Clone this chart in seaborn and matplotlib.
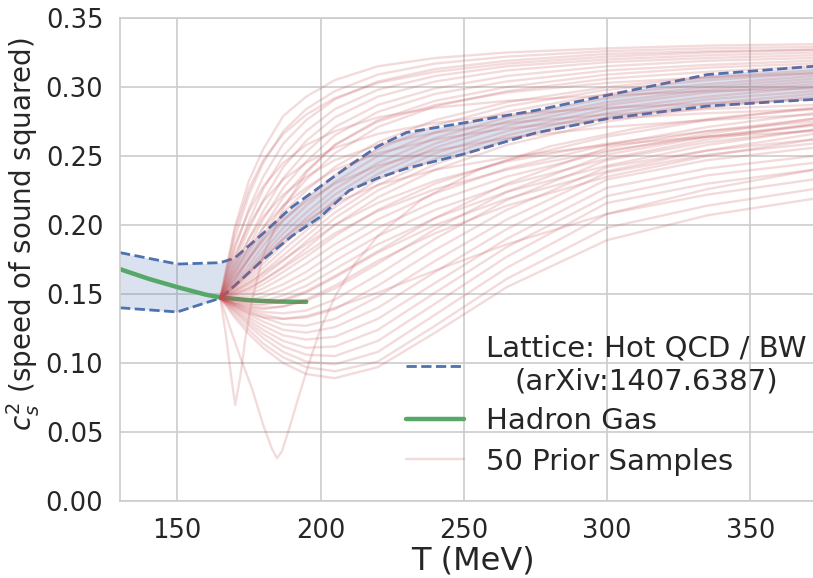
import numpy as np
import pandas as pd
import matplotlib
matplotlib.use("Agg")
import matplotlib.pyplot as plt
import seaborn as sns
from matplotlib.lines import Line2D

# ---------------- data ----------------
LATTICE_T = [130, 150, 165, 170, 180, 190, 200, 210, 220, 230, 250, 275, 300, 335, 372]
LATTICE_LO = [0.140, 0.137, 0.147, 0.156, 0.175, 0.192, 0.206, 0.225, 0.234, 0.241,
              0.2514, 0.2667, 0.277, 0.2862, 0.291]
LATTICE_HI = [0.180, 0.1717, 0.1727, 0.176, 0.194, 0.213, 0.228, 0.243, 0.257, 0.267,
              0.274, 0.283, 0.294, 0.309, 0.315]

HRG_T = [130, 140, 150, 160, 165, 175, 185, 195]
HRG_V = [0.168, 0.161, 0.155, 0.1495, 0.1475, 0.1455, 0.1445, 0.1443]

SAMPLE_T = [165, 170, 175, 180, 187, 195, 205, 220, 240, 265, 300, 335, 372]
SAMPLES = [
    # fast risers
    [0.147, 0.198, 0.232, 0.255, 0.279, 0.293, 0.305, 0.315, 0.321, 0.325, 0.328, 0.330, 0.331],
    [0.147, 0.190, 0.222, 0.245, 0.268, 0.284, 0.297, 0.309, 0.317, 0.322, 0.326, 0.328, 0.329],
    [0.147, 0.195, 0.226, 0.247, 0.266, 0.280, 0.292, 0.303, 0.311, 0.317, 0.322, 0.325, 0.327],
    [0.147, 0.182, 0.212, 0.235, 0.259, 0.276, 0.291, 0.304, 0.313, 0.319, 0.324, 0.326, 0.327],
    [0.147, 0.175, 0.203, 0.226, 0.250, 0.268, 0.284, 0.298, 0.308, 0.315, 0.320, 0.323, 0.325],
    [0.147, 0.172, 0.197, 0.218, 0.242, 0.261, 0.278, 0.293, 0.304, 0.312, 0.318, 0.321, 0.323],
    [0.147, 0.168, 0.190, 0.210, 0.234, 0.253, 0.271, 0.287, 0.299, 0.308, 0.315, 0.319, 0.321],
    [0.147, 0.165, 0.185, 0.204, 0.227, 0.246, 0.265, 0.282, 0.295, 0.304, 0.312, 0.316, 0.319],
    [0.147, 0.163, 0.180, 0.198, 0.220, 0.239, 0.258, 0.276, 0.290, 0.300, 0.309, 0.314, 0.317],
    [0.147, 0.160, 0.176, 0.193, 0.214, 0.233, 0.252, 0.271, 0.286, 0.297, 0.306, 0.311, 0.315],
    # near the lattice band
    [0.147, 0.160, 0.175, 0.190, 0.209, 0.225, 0.242, 0.260, 0.276, 0.289, 0.300, 0.307, 0.312],
    [0.147, 0.158, 0.171, 0.185, 0.203, 0.219, 0.236, 0.255, 0.272, 0.286, 0.298, 0.305, 0.310],
    [0.147, 0.157, 0.168, 0.181, 0.198, 0.214, 0.231, 0.250, 0.267, 0.282, 0.295, 0.302, 0.308],
    [0.147, 0.156, 0.166, 0.178, 0.194, 0.209, 0.226, 0.245, 0.263, 0.278, 0.292, 0.300, 0.306],
    [0.147, 0.155, 0.164, 0.175, 0.190, 0.205, 0.222, 0.241, 0.259, 0.275, 0.289, 0.298, 0.304],
    [0.147, 0.154, 0.162, 0.172, 0.186, 0.201, 0.218, 0.237, 0.256, 0.272, 0.287, 0.296, 0.302],
    [0.147, 0.153, 0.160, 0.169, 0.182, 0.196, 0.213, 0.233, 0.252, 0.268, 0.284, 0.293, 0.300],
    [0.147, 0.152, 0.158, 0.166, 0.178, 0.192, 0.209, 0.229, 0.248, 0.265, 0.281, 0.291, 0.297],
    [0.147, 0.151, 0.156, 0.163, 0.174, 0.188, 0.205, 0.225, 0.244, 0.262, 0.278, 0.288, 0.295],
    [0.147, 0.150, 0.154, 0.160, 0.170, 0.183, 0.200, 0.220, 0.240, 0.258, 0.275, 0.285, 0.293],
    # fast, then flattening lower
    [0.147, 0.185, 0.210, 0.228, 0.245, 0.258, 0.268, 0.278, 0.285, 0.290, 0.294, 0.297, 0.299],
    [0.147, 0.178, 0.200, 0.217, 0.233, 0.245, 0.256, 0.266, 0.274, 0.280, 0.285, 0.288, 0.291],
    [0.147, 0.170, 0.190, 0.206, 0.222, 0.235, 0.247, 0.258, 0.267, 0.274, 0.280, 0.284, 0.287],
    [0.147, 0.166, 0.183, 0.198, 0.214, 0.227, 0.240, 0.252, 0.262, 0.270, 0.277, 0.281, 0.284],
    [0.147, 0.162, 0.176, 0.189, 0.204, 0.217, 0.230, 0.243, 0.254, 0.263, 0.271, 0.276, 0.280],
    [0.147, 0.155, 0.165, 0.176, 0.190, 0.203, 0.216, 0.229, 0.240, 0.249, 0.258, 0.264, 0.268],
    # moderate
    [0.147, 0.149, 0.152, 0.157, 0.166, 0.177, 0.192, 0.211, 0.230, 0.247, 0.264, 0.276, 0.285],
    [0.147, 0.148, 0.150, 0.154, 0.162, 0.172, 0.186, 0.204, 0.223, 0.241, 0.258, 0.271, 0.281],
    [0.147, 0.147, 0.148, 0.151, 0.157, 0.166, 0.180, 0.198, 0.217, 0.235, 0.253, 0.266, 0.277],
    [0.147, 0.146, 0.146, 0.148, 0.153, 0.161, 0.174, 0.192, 0.211, 0.229, 0.248, 0.262, 0.273],
    [0.147, 0.145, 0.144, 0.145, 0.149, 0.156, 0.168, 0.186, 0.205, 0.224, 0.243, 0.258, 0.269],
    [0.147, 0.144, 0.142, 0.142, 0.145, 0.151, 0.162, 0.180, 0.200, 0.219, 0.239, 0.254, 0.266],
    [0.147, 0.143, 0.140, 0.139, 0.141, 0.146, 0.156, 0.174, 0.194, 0.214, 0.235, 0.250, 0.262],
    [0.147, 0.152, 0.158, 0.165, 0.175, 0.186, 0.200, 0.216, 0.232, 0.246, 0.259, 0.268, 0.275],
    [0.147, 0.150, 0.154, 0.160, 0.169, 0.180, 0.194, 0.210, 0.226, 0.240, 0.254, 0.264, 0.272],
    # dipping first
    [0.147, 0.133, 0.121, 0.111, 0.100, 0.092, 0.089, 0.097, 0.122, 0.155, 0.189, 0.207, 0.219],
    [0.147, 0.135, 0.124, 0.114, 0.104, 0.097, 0.094, 0.101, 0.127, 0.161, 0.198, 0.214, 0.226],
    [0.147, 0.137, 0.127, 0.118, 0.108, 0.101, 0.099, 0.108, 0.135, 0.169, 0.208, 0.222, 0.233],
    [0.147, 0.138, 0.129, 0.121, 0.112, 0.106, 0.105, 0.116, 0.143, 0.177, 0.216, 0.230, 0.240],
    [0.147, 0.139, 0.131, 0.124, 0.116, 0.111, 0.112, 0.124, 0.151, 0.184, 0.221, 0.236, 0.245],
    [0.147, 0.140, 0.133, 0.127, 0.120, 0.117, 0.119, 0.132, 0.158, 0.190, 0.227, 0.241, 0.250],
    [0.147, 0.141, 0.135, 0.130, 0.124, 0.122, 0.126, 0.140, 0.166, 0.197, 0.233, 0.247, 0.256],
    [0.147, 0.142, 0.137, 0.133, 0.128, 0.127, 0.132, 0.148, 0.174, 0.204, 0.238, 0.251, 0.259],
    [0.147, 0.142, 0.138, 0.135, 0.132, 0.133, 0.139, 0.156, 0.182, 0.211, 0.242, 0.254, 0.262],
    [0.147, 0.143, 0.139, 0.137, 0.136, 0.138, 0.146, 0.164, 0.190, 0.218, 0.247, 0.260, 0.269],
    [0.147, 0.143, 0.141, 0.140, 0.141, 0.145, 0.154, 0.172, 0.197, 0.224, 0.251, 0.264, 0.273],
    [0.147, 0.144, 0.143, 0.143, 0.146, 0.152, 0.163, 0.181, 0.205, 0.230, 0.256, 0.268, 0.277],
    [0.147, 0.141, 0.136, 0.133, 0.132, 0.134, 0.140, 0.151, 0.167, 0.186, 0.208, 0.226, 0.240],
]
SPIKE1_T = [165, 167, 168.5, 170.2, 172, 173.7, 176, 180, 187, 195, 205, 220, 240, 265, 300, 335, 372]
SPIKE1_V = [0.147, 0.120, 0.095, 0.0696, 0.090, 0.117, 0.145, 0.178, 0.212, 0.238, 0.258,
            0.275, 0.287, 0.296, 0.303, 0.307, 0.310]
SPIKE2_T = [165, 168, 172, 176, 180, 183, 184.8, 186.5, 189, 192, 196, 200, 205, 212, 220,
            235, 255, 280, 310, 340, 372]
SPIKE2_V = [0.147, 0.128, 0.104, 0.082, 0.055, 0.038, 0.031, 0.036, 0.052, 0.073, 0.100,
            0.125, 0.148, 0.172, 0.192, 0.218, 0.240, 0.257, 0.270, 0.278, 0.284]

X_TICKS = [150, 200, 250, 300, 350]
Y_TICKS = [0.00, 0.05, 0.10, 0.15, 0.20, 0.25, 0.30, 0.35]

# ---------------- long table of the prior samples ----------------
rows = []
for i, vals in enumerate(SAMPLES):
    for t, v in zip(SAMPLE_T, vals):
        rows.append((i, t, v))
for t, v in zip(SPIKE1_T, SPIKE1_V):
    rows.append((len(SAMPLES), t, v))
for t, v in zip(SPIKE2_T, SPIKE2_V):
    rows.append((len(SAMPLES) + 1, t, v))
samples_df = pd.DataFrame(rows, columns=["sample", "T", "cs2"])

lat_df = pd.DataFrame({"T": LATTICE_T, "lo": LATTICE_LO, "hi": LATTICE_HI})
hrg_df = pd.DataFrame({"T": HRG_T, "cs2": HRG_V})

# ---------------- style ----------------
sns.set_theme(style="whitegrid")
plt.rcParams["font.family"] = ["DejaVu Sans"]
pal = sns.color_palette("deep")
BLUE, GREEN, RED = pal[0], pal[2], pal[3]

fig = plt.figure(figsize=(8.13, 5.78), dpi=100)
ax = fig.add_axes([120 / 813, 77 / 578, 693 / 813, 483 / 578])

# lattice band
ax.fill_between(lat_df["T"], lat_df["lo"], lat_df["hi"], color=BLUE, alpha=0.2, lw=0)
sns.lineplot(data=lat_df, x="T", y="lo", ax=ax, color=BLUE, lw=2, linestyle="--")
sns.lineplot(data=lat_df, x="T", y="hi", ax=ax, color=BLUE, lw=2, linestyle="--")

# hadron gas
sns.lineplot(data=hrg_df, x="T", y="cs2", ax=ax, color=GREEN, lw=3.2)

# prior samples
sns.lineplot(data=samples_df, x="T", y="cs2", units="sample", estimator=None,
             ax=ax, color=RED, alpha=0.2, lw=1.7, sort=False)

ax.set_xlim(130, 371.9)
ax.set_ylim(0, 0.35)
ax.set_xticks(X_TICKS)
ax.set_yticks(Y_TICKS)
ax.set_yticklabels([f"{v:.2f}" for v in Y_TICKS])
ax.tick_params(axis="x", labelsize=18.5, pad=6.5, colors=".15")
ax.tick_params(axis="y", labelsize=18.5, pad=6, colors=".15")
for lab in ax.get_xticklabels() + ax.get_yticklabels():
    lab.set_color(".15")
ax.grid(True, color=".8", lw=1.2)
ax.spines["right"].set_visible(False)
for s in ["left", "bottom", "top"]:
    ax.spines[s].set_color(".8")
    ax.spines[s].set_linewidth(1.2)

ax.set_xlabel("T (MeV)", fontsize=23, color=".15")
ax.set_ylabel(r"$c_s^2$ (speed of sound squared)", fontsize=20, color=".15")
ax.xaxis.set_label_coords(0.509, -0.092)
ax.yaxis.set_label_coords(-0.112, 0.553)

handles = [
    Line2D([], [], color=BLUE, lw=2, linestyle="--"),
    Line2D([], [], color=GREEN, lw=3.2),
    Line2D([], [], color=RED, lw=1.7, alpha=0.2),
]
labels = ["Lattice: Hot QCD / BW\n(arXiv:1407.6387)", "Hadron Gas", "50 Prior Samples"]
leg = ax.legend(handles, labels, loc="upper left", bbox_to_anchor=(394 / 813, 0.441),
                bbox_transform=fig.transFigure, frameon=False, fontsize=21,
                handlelength=2.0, handletextpad=0.75, borderaxespad=0, labelspacing=0.42)
leg.get_texts()[0].set_multialignment("center")
for txt in leg.get_texts():
    txt.set_color(".15")

fig.savefig("out.png", dpi=100)
